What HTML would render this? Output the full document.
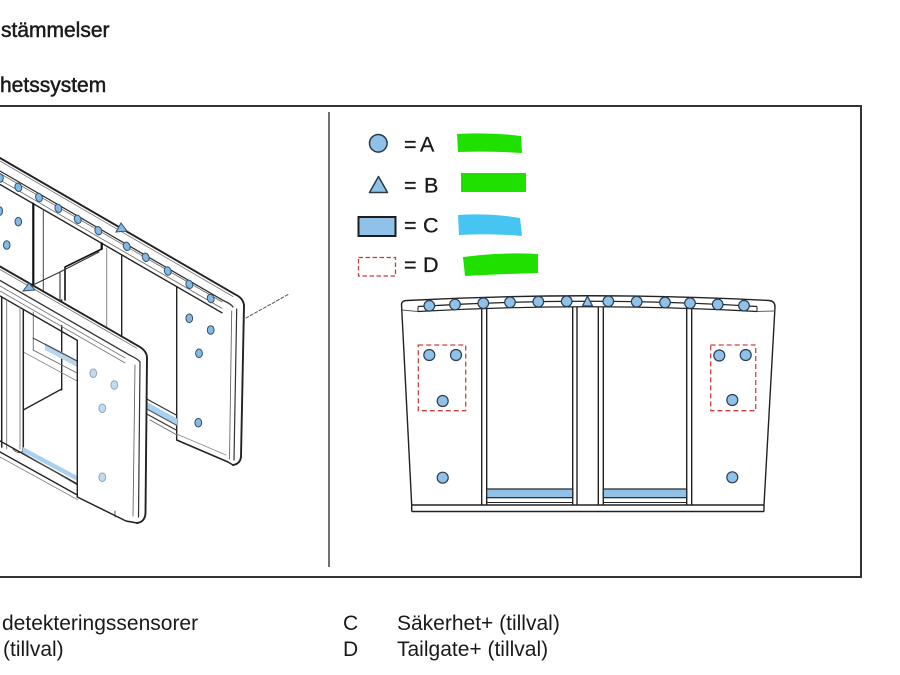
<!DOCTYPE html>
<html><head><meta charset="utf-8">
<style>
html,body{margin:0;padding:0;background:#fff;}
body{width:900px;height:675px;overflow:hidden;}
svg{display:block;}
text{font-family:"Liberation Sans",Arial,sans-serif;fill:#1a1a1a;}
</style></head><body>
<svg width="900" height="675" viewBox="0 0 900 675" xmlns="http://www.w3.org/2000/svg">
<rect width="900" height="675" fill="#fff"/>
<!-- headings -->
<text x="1" y="37" font-size="21" stroke="#1a1a1a" stroke-width="0.5">stämmelser</text>
<text x="0" y="92" font-size="21" stroke="#1a1a1a" stroke-width="0.5">hetssystem</text>

<!-- frame -->
<line x1="0" y1="106" x2="862" y2="106" stroke="#333" stroke-width="2"/>
<line x1="861" y1="105" x2="861" y2="578" stroke="#333" stroke-width="2"/>
<line x1="0" y1="577" x2="862" y2="577" stroke="#333" stroke-width="2"/>
<line x1="329" y1="112" x2="329" y2="567" stroke="#222" stroke-width="1.3"/>

<!-- ================= LEFT DRAWING ================= -->
<g fill="none" stroke-linecap="round" stroke-linejoin="round">
  <!-- back rail -->
  <path d="M0,158 L235,294.3 Q243,298 244,305" stroke="#222" stroke-width="1.9"/>
  <path d="M0,161 L233,296.5" stroke="#777" stroke-width="0.8"/>
  <path d="M0,171 L224,300.9 Q231,304 233,307" stroke="#333" stroke-width="1.3"/>
  <line x1="0" y1="173.5" x2="222" y2="301.8" stroke="#777" stroke-width="0.9"/>
  <line x1="0" y1="180" x2="222" y2="308.3" stroke="#777" stroke-width="0.9"/>
  <line x1="0" y1="184.5" x2="222" y2="312.8" stroke="#222" stroke-width="1.4"/>
  <!-- back panel verticals -->
  <line x1="33.3" y1="203.7" x2="33.3" y2="287" stroke="#111" stroke-width="2.2"/>
  <line x1="43.3" y1="209.5" x2="43.3" y2="291" stroke="#444" stroke-width="1"/>
  <line x1="101.7" y1="243.3" x2="101.7" y2="249" stroke="#111" stroke-width="2.2"/>
  <path d="M101.7,249 L65,267 L65,300" stroke="#111" stroke-width="1.6"/>
  <path d="M99,252 L60,272 L35,284" stroke="#333" stroke-width="1.1"/>
  <line x1="60" y1="272" x2="60" y2="300" stroke="#333" stroke-width="1.1"/>
  <line x1="106.7" y1="248" x2="106.7" y2="327.5" stroke="#888" stroke-width="1"/>
  <line x1="121.7" y1="255" x2="121.7" y2="337" stroke="#222" stroke-width="1.4"/>
  <line x1="176.7" y1="286.6" x2="176.7" y2="440" stroke="#222" stroke-width="1.4"/>
  <!-- back end panel -->
  <path d="M244,305 L241,457 Q240,464 233,465" stroke="#222" stroke-width="1.9"/>
  <path d="M236.7,309 L234,460" stroke="#333" stroke-width="1.2"/>
  <path d="M231.7,311 L229.5,459" stroke="#666" stroke-width="0.9"/>
  <path d="M176.7,440 L228,462 L233,465" stroke="#222" stroke-width="1.5"/>
  <path d="M176.7,434 L226,455" stroke="#888" stroke-width="0.8"/>
  <line x1="246" y1="318" x2="289" y2="294" stroke="#555" stroke-width="1" stroke-dasharray="3,2"/>
  <!-- back bottom bar between panels -->
  <polygon points="145,401 177,418.5 177,425.5 145,408" fill="#a9d0ef" stroke="none"/>
  <line x1="145" y1="398" x2="177" y2="415.5" stroke="#333" stroke-width="1.2"/>
  <line x1="145" y1="408" x2="177" y2="425.5" stroke="#555" stroke-width="1"/>
  <line x1="145" y1="413" x2="177" y2="430.5" stroke="#333" stroke-width="1.2"/>
  <line x1="150" y1="420" x2="177" y2="435" stroke="#666" stroke-width="0.9"/>

  <!-- inner compartment -->
  <line x1="61.7" y1="300" x2="61.7" y2="390" stroke="#222" stroke-width="1.4"/>
  <line x1="33.3" y1="300" x2="33.3" y2="350" stroke="#777" stroke-width="1"/>
  <line x1="23.3" y1="410" x2="61.7" y2="389" stroke="#222" stroke-width="1.3"/>
  <polygon points="45,343 77,360 77,367 45,350" fill="#b7d6ee" stroke="none"/>
  <line x1="33" y1="338" x2="77" y2="361" stroke="#444" stroke-width="1"/>
  <line x1="33" y1="350" x2="77" y2="373" stroke="#666" stroke-width="0.9"/>
  <line x1="23.3" y1="352" x2="77" y2="381" stroke="#888" stroke-width="0.8"/>

  <!-- front rail (occluding) -->
  <path d="M0,266.5 L139,346.4 Q147,351 147,358 L140,362 L0,296 Z" fill="#fff" stroke="none"/>
  <path d="M0,266.5 L139,346.4 Q147,351 147,358" stroke="#222" stroke-width="1.9"/>
  <path d="M0,269.5 L137,348.3" stroke="#777" stroke-width="0.8"/>
  <path d="M0,280.5 L130,355.3 Q138,359 140,362" stroke="#333" stroke-width="1.3"/>
  <line x1="0" y1="286" x2="125" y2="357.9" stroke="#777" stroke-width="0.9"/>
  <line x1="0" y1="291" x2="125" y2="362.9" stroke="#777" stroke-width="0.9"/>
  <line x1="0" y1="296" x2="77.3" y2="340.4" stroke="#222" stroke-width="1.4"/>
  <!-- front center verticals -->
  <line x1="1.7" y1="297" x2="1.7" y2="447" stroke="#222" stroke-width="1.5"/>
  <line x1="6.7" y1="300" x2="6.7" y2="449" stroke="#777" stroke-width="0.9"/>
  <line x1="20" y1="307.5" x2="20" y2="449" stroke="#777" stroke-width="0.9"/>
  <line x1="23.3" y1="309.5" x2="23.3" y2="451" stroke="#222" stroke-width="1.5"/>
  <path d="M13,449 Q18,455 23.3,451" stroke="#555" stroke-width="0.9"/>
  <!-- front base -->
  <line x1="0" y1="441" x2="77.3" y2="484" stroke="#222" stroke-width="1.4"/>
  <polygon points="23,447 77.3,476 77.3,481 23,452" fill="#a9d0ef" stroke="none"/>
  <line x1="23" y1="453" x2="77.3" y2="485" stroke="#555" stroke-width="0.9"/>
  <line x1="0" y1="452" x2="77.3" y2="495" stroke="#222" stroke-width="1.4"/>
  <line x1="0" y1="457" x2="77.3" y2="499.5" stroke="#888" stroke-width="0.9"/>

  <!-- front end panel (occluding) -->
  <path d="M77.3,340.4 L132,371 L147,358 L146,513 Q145,522 137,523 L126,521 L77.3,497 Z" fill="#fff" stroke="none"/>
  <line x1="77.3" y1="340.4" x2="77.3" y2="497" stroke="#222" stroke-width="1.4"/>
  <path d="M147,358 L145.5,513 Q145,522 137,523" stroke="#222" stroke-width="1.9"/>
  <path d="M140,362 L138.5,517" stroke="#333" stroke-width="1.2"/>
  <path d="M135,365 L133,516" stroke="#666" stroke-width="0.9"/>
  <path d="M77.3,497 L126,521 L137,523" stroke="#222" stroke-width="1.5"/>
  <path d="M115,511 L115,517" stroke="#444" stroke-width="0.9"/>
</g>

<!-- back rail sensors -->
<g fill="#84b9e4" stroke="#34506c" stroke-width="1">
  <ellipse cx="0" cy="178" rx="3.3" ry="4.3"/>
  <ellipse cx="18.3" cy="187.3" rx="3.3" ry="4.3" transform="rotate(-20 18.3 187.3)"/>
  <ellipse cx="39" cy="197.5" rx="3.3" ry="4.3" transform="rotate(-20 39 197.5)"/>
  <ellipse cx="58.3" cy="208.3" rx="3.3" ry="4.3" transform="rotate(-20 58.3 208.3)"/>
  <ellipse cx="77.7" cy="219.3" rx="3.3" ry="4.3" transform="rotate(-20 77.7 219.3)"/>
  <ellipse cx="98.3" cy="230.7" rx="3.3" ry="4.3" transform="rotate(-20 98.3 230.7)"/>
  <ellipse cx="126.7" cy="246.3" rx="3.3" ry="4.3" transform="rotate(-20 126.7 246.3)"/>
  <ellipse cx="145.7" cy="257.3" rx="3.3" ry="4.3" transform="rotate(-20 145.7 257.3)"/>
  <ellipse cx="167.7" cy="271" rx="3.3" ry="4.3" transform="rotate(-20 167.7 271)"/>
  <ellipse cx="189.3" cy="284.3" rx="3.3" ry="4.3" transform="rotate(-20 189.3 284.3)"/>
  <ellipse cx="210.7" cy="298.5" rx="3.3" ry="4.3" transform="rotate(-20 210.7 298.5)"/>
  <polygon points="116,232 121,223 127,231"/>
  <polygon points="23,291 29,283 35,290"/>
  <!-- back panel face -->
  <ellipse cx="18.3" cy="221.7" rx="3.3" ry="4.3"/>
  <ellipse cx="6.7" cy="245" rx="3.3" ry="4.3"/>
  <ellipse cx="0" cy="211" rx="2.5" ry="4.3"/>
  <!-- back end panel -->
  <ellipse cx="189.3" cy="318.3" rx="3.4" ry="4.3"/>
  <ellipse cx="210.7" cy="330" rx="3.4" ry="4.3"/>
  <ellipse cx="199" cy="353.3" rx="3.4" ry="4.3"/>
  <ellipse cx="198.3" cy="422.7" rx="3.4" ry="4.3"/>
</g>
<!-- front end panel sensors (lighter) -->
<g fill="#c3dbef" stroke="#8aa6c0" stroke-width="1">
  <ellipse cx="93.3" cy="373.3" rx="3.4" ry="4.3"/>
  <ellipse cx="114.3" cy="385" rx="3.4" ry="4.3"/>
  <ellipse cx="102.3" cy="408.3" rx="3.4" ry="4.3"/>
  <ellipse cx="102.3" cy="477.3" rx="3.4" ry="4.3"/>
</g>

<!-- ================= LEGEND ================= -->
<circle cx="378.3" cy="143.3" r="8.8" fill="#8fc1e9" stroke="#2a3a4a" stroke-width="1.5"/>
<polygon points="378.5,176.5 369.5,192.5 387.5,192.5" fill="#8fc1e9" stroke="#2a3a4a" stroke-width="1.5" stroke-linejoin="round"/>
<rect x="358.5" y="217" width="37" height="19" fill="#8fc1e9" stroke="#1e1e1e" stroke-width="2"/>
<rect x="358.5" y="257.5" width="37" height="18.5" fill="none" stroke="#cc3b3b" stroke-width="1.3" stroke-dasharray="4.5,2.5"/>
<g font-size="21.5" stroke="#1a1a1a" stroke-width="0.3">
  <text x="404" y="151.5">=</text><text x="420" y="151.5">A</text>
  <text x="404" y="192.5">=</text><text x="424" y="192.5">B</text>
  <text x="404" y="232.5">=</text><text x="423" y="232.5">C</text>
  <text x="404" y="272">=</text><text x="423" y="272">D</text>
</g>
<path d="M457,134 Q490,132 521,136 L522,153 Q490,151 458,152 Z" fill="#20e000"/>
<path d="M461,173 L526,173 L526,192 L461,192 Z" fill="#20e000"/>
<path d="M458,215 Q492,213 520,218 L522,236 Q490,233 459,235 Z" fill="#46c5f2"/>
<path d="M463,257 Q500,252 538,254 L538,273 Q500,274 465,276 Z" fill="#20e000"/>

<!-- ================= RIGHT DIAGRAM ================= -->
<g fill="none" stroke="#222" stroke-width="1.4" stroke-linejoin="round">
  <!-- outline -->
  <path d="M411.7,505 L401.5,304 Q402,300.5 407,300.5 Q587,291 769,300.5 Q775,301 775,307 L764,505"/>
  <!-- rail lines -->
  <path d="M418,306.5 Q587.5,296 757,306.5" stroke-width="1.2"/>
  <path d="M418,311.5 Q587.5,302 757,311.5" stroke-width="1.2"/>
  <line x1="418" y1="306.5" x2="418" y2="311.5" stroke-width="1"/>
  <line x1="757" y1="306.5" x2="757" y2="311.5" stroke-width="1"/>
  <line x1="401.8" y1="310" x2="418" y2="311.5" stroke-width="0.9" stroke="#555"/>
  <line x1="757" y1="311.5" x2="774.7" y2="311" stroke-width="0.9" stroke="#555"/>
  <!-- posts -->
  <line x1="481.7" y1="308.5" x2="481.7" y2="505"/>
  <line x1="486.7" y1="308.3" x2="486.7" y2="505"/>
  <line x1="572.7" y1="307" x2="572.7" y2="505"/>
  <line x1="577" y1="306.9" x2="577" y2="505"/>
  <line x1="598.3" y1="306.8" x2="598.3" y2="505"/>
  <line x1="603.3" y1="306.8" x2="603.3" y2="505"/>
  <line x1="686.7" y1="308.3" x2="686.7" y2="505"/>
  <line x1="691.7" y1="308.5" x2="691.7" y2="505"/>
  <!-- bottom -->
  <line x1="411.7" y1="505" x2="764" y2="505"/>
  <line x1="486.7" y1="502.5" x2="572.7" y2="502.5" stroke-width="1"/>
  <line x1="603.3" y1="502.5" x2="686.7" y2="502.5" stroke-width="1"/>
  <line x1="411.7" y1="505" x2="411.7" y2="511.5"/>
  <line x1="764" y1="505" x2="764" y2="511.5"/>
  <line x1="411.7" y1="511.5" x2="764" y2="511.5"/>
</g>
<rect x="486.7" y="489" width="86" height="8.7" fill="#8fc1e9" stroke="#222" stroke-width="1.2"/>
<rect x="603.3" y="489" width="83.4" height="8.7" fill="#8fc1e9" stroke="#222" stroke-width="1.2"/>
<!-- dashed red boxes -->
<rect x="418.3" y="345" width="47.4" height="65.7" fill="none" stroke="#d04040" stroke-width="1.3" stroke-dasharray="5,3"/>
<rect x="710.7" y="345" width="45" height="65.7" fill="none" stroke="#d04040" stroke-width="1.3" stroke-dasharray="5,3"/>
<!-- sensors -->
<g fill="#8fc1e9" stroke="#2b3d52" stroke-width="1.2">
  <circle cx="429.3" cy="305.8" r="5.3"/>
  <circle cx="455" cy="304.5" r="5.3"/>
  <circle cx="483.3" cy="303.2" r="5.3"/>
  <circle cx="510" cy="302.3" r="5.3"/>
  <circle cx="538.3" cy="301.7" r="5.3"/>
  <circle cx="566.7" cy="301.3" r="5.3"/>
  <polygon points="587.5,296 582.5,306 592.5,306"/>
  <circle cx="608.3" cy="301.3" r="5.3"/>
  <circle cx="636.7" cy="301.7" r="5.3"/>
  <circle cx="665" cy="302.4" r="5.3"/>
  <circle cx="690" cy="303.2" r="5.3"/>
  <circle cx="717.7" cy="304.4" r="5.3"/>
  <circle cx="744" cy="305.7" r="5.3"/>
  <circle cx="429.3" cy="355" r="5.5"/>
  <circle cx="456" cy="355" r="5.5"/>
  <circle cx="442.7" cy="401" r="5.5"/>
  <circle cx="442.7" cy="477.7" r="5.5"/>
  <circle cx="719.3" cy="355.5" r="5.5"/>
  <circle cx="745.7" cy="355" r="5.5"/>
  <circle cx="732.3" cy="400" r="5.5"/>
  <circle cx="732.3" cy="477.3" r="5.5"/>
</g>

<!-- bottom text -->
<g font-size="21">
  <text x="2" y="630">detekteringssensorer</text>
  <text x="3" y="656">(tillval)</text>
  <text x="343" y="630">C</text>
  <text x="397" y="630">Säkerhet+ (tillval)</text>
  <text x="343" y="656">D</text>
  <text x="397" y="656">Tailgate+ (tillval)</text>
</g>
</svg>
</body></html>
